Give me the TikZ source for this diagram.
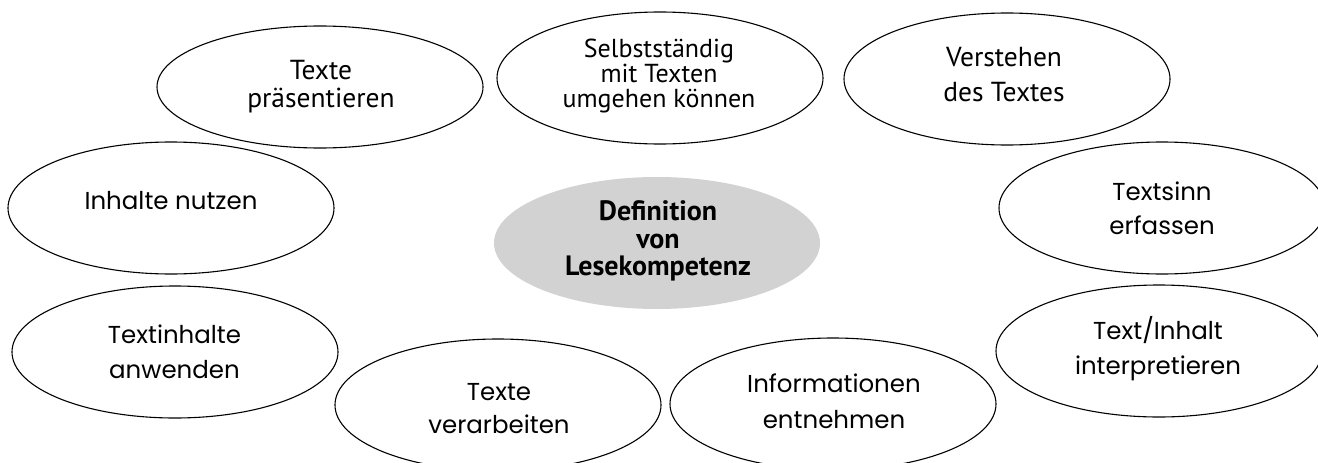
\documentclass[tikz,border=0pt]{standalone}
\usepackage{fontspec}
\setmainfont{PT Sans}
\newfontfamily\geofont{Poppins}
\newfontfamily\humfont{PT Sans}
\newfontfamily\boldfont{PT Sans}
\usetikzlibrary{shapes.geometric}
\definecolor{centergray}{RGB}{210,210,210}
\begin{document}
\begin{tikzpicture}[x=1pt,y=-1pt,
  bub/.style={draw=black, line width=1.1pt, ellipse, minimum width=326pt, minimum height=132pt, inner sep=0pt},
  lab/.style={align=center, inner sep=0pt, text=black},
  geolab/.style={lab, font=\geofont\fontsize{24.5}{#1}\selectfont},
  humlab/.style={lab, font=\humfont\fontsize{27.5}{#1}\selectfont},
]
\path[use as bounding box, clip] (0,0) rectangle (1318,463);

% ellipses
\node[bub, minimum height=122pt] (pres) at (320,87) {};
\node[bub] (selb) at (660,78) {};
\node[bub] (vers) at (1007,79) {};
\node[bub] (inha) at (171,208) {};
\node[bub, draw=none, fill=centergray] (def) at (657,243) {};
\node[bub] (sinn) at (1162,208) {};
\node[bub] (anwe) at (175,352) {};
\node[bub] (interp) at (1159,351) {};
\node[bub] (verarb) at (498,405) {};
\node[bub] (inform) at (833,404) {};

% texts
\node[humlab=28] (presT) at (321,86.5) {Texte\\präsentieren};
\node[lab, font=\humfont\fontsize{26}{25}\selectfont] (selbT) at (659,76) {Selbstständig\\mit Texten\\umgehen können};
\node[humlab=35] (versT) at (1004,75) {Verstehen\\des Textes};
\node[geolab=34] (inhaT) at (171,200.5) {Inhalte nutzen};
\node[lab, font=\boldfont\bfseries\fontsize{28}{27.5}\selectfont] (defT) at (658,241) {Definition\\von\\Lesekompetenz};
\node[geolab=34] (sinnT) at (1162,208) {Textsinn\\erfassen};
\node[geolab=35] (anweT) at (174.5,351.5) {Textinhalte\\anwenden};
\node[geolab=35] (interpT) at (1158,349) {Text/Inhalt\\interpretieren};
\node[geolab=33] (verarbT) at (499,409) {Texte\\verarbeiten};
\node[geolab=36] (informT) at (834,401.5) {Informationen\\entnehmen};
\end{tikzpicture}
\end{document}
